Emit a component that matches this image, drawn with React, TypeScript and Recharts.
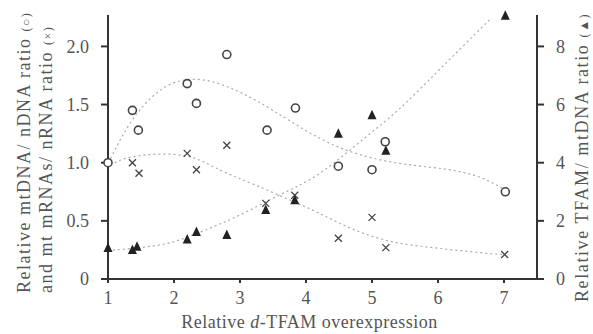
import { ComposedChart, Scatter, Line, XAxis, YAxis } from 'recharts';

const xTicks = [1, 2, 3, 4, 5, 6, 7];
const leftTicks = [0, 0.5, 1.0, 1.5, 2.0];
const rightTicks = [0, 2, 4, 6, 8];

// mtDNA / nDNA ratio (open circles, left axis)
const mtdnaX = [1, 1.37, 1.46, 2.2, 2.34, 2.8, 3.41, 3.84, 4.49, 5.0, 5.2, 7.02];
const mtdnaY = [1.0, 1.45, 1.28, 1.68, 1.51, 1.93, 1.28, 1.47, 0.97, 0.94, 1.18, 0.75];

// mt mRNAs / nRNA ratio (crosses, left axis)
const mrnaX = [1.37, 1.47, 2.2, 2.34, 2.8, 3.39, 3.83, 4.49, 5.0, 5.21, 7.01];
const mrnaY = [1.0, 0.91, 1.08, 0.94, 1.15, 0.65, 0.72, 0.35, 0.53, 0.27, 0.21];

// TFAM / mtDNA ratio (filled triangles, right axis)
const tfamX = [1, 1.37, 1.44, 2.2, 2.34, 2.8, 3.39, 3.83, 4.49, 5.0, 5.21, 7.02];
const tfamY = [1.07, 1.0, 1.11, 1.36, 1.62, 1.51, 2.37, 2.71, 5.0, 5.63, 4.41, 9.05];

// dotted trend curves
const mtdnaFitX = [1, 1.08, 1.33, 1.73, 2.09, 2.49, 2.84, 3.25, 3.75, 4.45, 5.3, 6.17, 6.67, 7.0];
const mtdnaFitY = [1.0, 1.08, 1.36, 1.62, 1.72, 1.72, 1.65, 1.54, 1.36, 1.12, 0.99, 0.95, 0.88, 0.77];
const mrnaFitX = [1.1, 1.3, 1.73, 2.19, 2.49, 2.74, 3.19, 3.75, 4.2, 4.7, 5.3, 5.9, 6.72, 7.0];
const mrnaFitY = [1.0, 1.05, 1.08, 1.07, 1.0, 0.92, 0.82, 0.68, 0.57, 0.42, 0.31, 0.27, 0.22, 0.21];
const tfamFitX = [1.0, 1.73, 2.09, 2.64, 2.94, 3.55, 3.85, 4.25, 4.9, 5.41, 5.86, 6.34, 6.8];
const tfamFitY = [0.98, 1.12, 1.32, 1.84, 2.12, 2.84, 3.16, 3.64, 4.88, 5.8, 6.84, 7.92, 8.96];

const pairs = (xs: number[], ys: number[]) => xs.map((x, i) => ({ x, y: ys[i] }));

const mtdna = pairs(mtdnaX, mtdnaY);
const mrna = pairs(mrnaX, mrnaY);
const tfam = pairs(tfamX, tfamY);
const mtdnaFit = pairs(mtdnaFitX, mtdnaFitY);
const mrnaFit = pairs(mrnaFitX, mrnaFitY);
const tfamFit = pairs(tfamFitX, tfamFitY);

const FONT = '"Liberation Serif", "DejaVu Serif", serif';
const TEXT = '#555';
const INK = '#333';

const tickStyle = { fontFamily: FONT, fontSize: 18, fill: TEXT };
const axisStroke = { stroke: INK, strokeWidth: 2 };

const OpenCircle = (p: any) => (
  <circle cx={p.cx} cy={p.cy} r={4} fill="#fff" stroke="#444" strokeWidth={1.6} />
);

const Cross = (p: any) => {
  const { cx, cy } = p;
  const s = 3.5;
  return (
    <path
      d={`M${cx - s},${cy - s}L${cx + s},${cy + s}M${cx + s},${cy - s}L${cx - s},${cy + s}`}
      stroke="#444"
      strokeWidth={1.3}
      fill="none"
    />
  );
};

const Triangle = (p: any) => {
  const { cx, cy } = p;
  return <path d={`M${cx},${cy - 5.5}L${cx + 4.5},${cy + 4}L${cx - 4.5},${cy + 4}Z`} fill="#222" />;
};

const XTitle = (props: any) => {
  const vb = props.viewBox || { x: 108, y: 279, width: 429, height: 55 };
  return (
    <text
      x={vb.x + vb.width / 2 - 13}
      y={vb.y + 49}
      textAnchor="middle"
      fontFamily={FONT}
      fontSize={18}
      letterSpacing={0.5}
      fill={TEXT}
    >
      Relative <tspan fontStyle="italic">d</tspan>-TFAM overexpression
    </text>
  );
};

const LeftTitle = (props: any) => {
  const vb = props.viewBox || { x: 0, y: 15, width: 108, height: 264 };
  const y0 = vb.y + vb.height + 14;
  return (
    <g fontFamily={FONT} fontSize={18} fill={TEXT} letterSpacing={1.5}>
      <text transform={`translate(${vb.x + 30},${y0}) rotate(-90)`} textAnchor="start">
        Relative mtDNA/ nDNA ratio <tspan fontSize={12}>(○)</tspan>
      </text>
      <text transform={`translate(${vb.x + 52},${y0}) rotate(-90)`} textAnchor="start">
        and mt mRNAs/ nRNA ratio <tspan fontSize={12}>(×)</tspan>
      </text>
    </g>
  );
};

const RightTitle = (props: any) => {
  const vb = props.viewBox || { x: 537, y: 15, width: 56, height: 264 };
  const y0 = vb.y + vb.height + 23;
  return (
    <text
      transform={`translate(${vb.x + 51},${y0}) rotate(-90)`}
      textAnchor="start"
      fontFamily={FONT}
      fontSize={18}
      letterSpacing={1.6}
      fill={TEXT}
    >
      Relative TFAM/ mtDNA ratio <tspan fontSize={12}>(▲)</tspan>
    </text>
  );
};

const fitLine = { stroke: '#aaa', strokeWidth: 1.2, strokeDasharray: '2 3', dot: false, isAnimationActive: false };

export default function App() {
  return (
    <div style={{ position: 'absolute', left: 0, top: 0, background: '#fff' }}>
      <ComposedChart width={593} height={334} margin={{ top: 15, right: 0, bottom: 0, left: 0 }}>
        <XAxis
          type="number"
          dataKey="x"
          domain={[1, 7.5]}
          ticks={xTicks}
          height={55}
          tick={tickStyle}
          tickSize={4}
          tickMargin={8}
          axisLine={axisStroke}
          tickLine={axisStroke}
          label={XTitle}
        />
        <YAxis
          yAxisId="left"
          orientation="left"
          width={108}
          domain={[0, 2.27]}
          ticks={leftTicks}
          tickFormatter={(v: number) => (v === 0 ? '0' : v.toFixed(1))}
          tick={tickStyle}
          tickSize={7}
          tickMargin={12}
          axisLine={axisStroke}
          tickLine={axisStroke}
          label={LeftTitle}
        />
        <YAxis
          yAxisId="right"
          orientation="right"
          width={56}
          domain={[0, 9.08]}
          ticks={rightTicks}
          tick={tickStyle}
          tickSize={7}
          tickMargin={12}
          axisLine={axisStroke}
          tickLine={axisStroke}
          label={RightTitle}
        />
        <Line yAxisId="left" data={mtdnaFit} dataKey="y" type="basis" {...fitLine} />
        <Line yAxisId="left" data={mrnaFit} dataKey="y" type="basis" {...fitLine} />
        <Line yAxisId="right" data={tfamFit} dataKey="y" type="basis" {...fitLine} />
        <Scatter yAxisId="left" data={mtdna} dataKey="y" shape={OpenCircle} isAnimationActive={false} />
        <Scatter yAxisId="left" data={mrna} dataKey="y" shape={Cross} isAnimationActive={false} />
        <Scatter yAxisId="right" data={tfam} dataKey="y" shape={Triangle} isAnimationActive={false} />
      </ComposedChart>
    </div>
  );
}
